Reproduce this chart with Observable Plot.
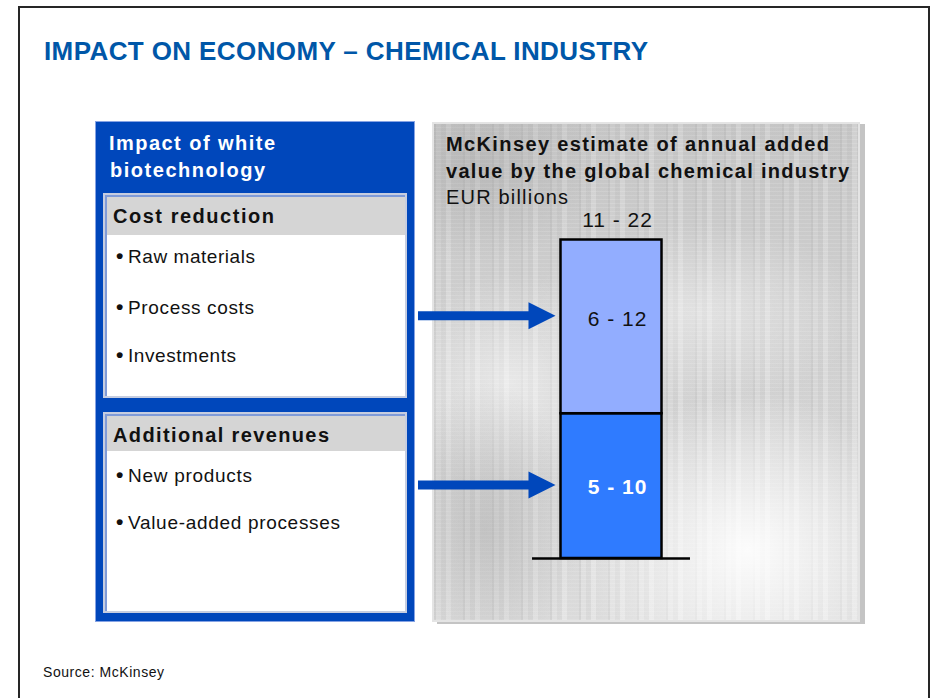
<!DOCTYPE html>
<html><head><meta charset="utf-8">
<script src="https://cdn.jsdelivr.net/npm/d3@7"></script>
<script src="https://cdn.jsdelivr.net/npm/@observablehq/plot@0.6"></script>
<style>
html,body{margin:0;padding:0;background:#fff;}
#slide{position:relative;width:934px;height:698px;overflow:hidden;background:#fff;font-family:"Liberation Sans",Arial,sans-serif;}
.abs{position:absolute;box-sizing:border-box;}
#frame{left:18px;top:6px;width:912px;height:720px;border:2.5px solid #262626;}
#bluePanel{left:95px;top:121px;width:320px;height:501px;background:#0047bb;border:1px solid #86a3e4;}
.box{background:#fff;border:2px solid #c6cde0;}
.box .hdr{position:absolute;left:0;top:0;right:0;background:#d5d5d5;}
.box .edge{position:absolute;left:0;top:0;right:0;bottom:0;box-shadow:inset 2px 2px 0 #7f9bd8;}
#box1{left:103px;top:193px;width:304px;height:205px;}
#box1 .hdr{height:40px;}
#box2{left:103px;top:412px;width:304px;height:201px;}
#box2 .hdr{height:37px;}
#texture{left:432px;top:122px;width:428px;height:500px;border:2px solid #e4e4e4;
  box-shadow:5px 2px 0 #c4c4c4;
  background:
   radial-gradient(ellipse 40% 32% at 74% 86%, rgba(255,255,255,0.92), rgba(255,255,255,0) 100%),
   radial-gradient(ellipse 22% 30% at 12% 82%, rgba(140,140,140,0.28), rgba(140,140,140,0) 100%),
   radial-gradient(ellipse 28% 22% at 18% 52%, rgba(255,255,255,0.5), rgba(255,255,255,0) 100%),
   radial-gradient(ellipse 40% 18% at 62% 38%, rgba(255,255,255,0.4), rgba(255,255,255,0) 100%),
   radial-gradient(ellipse 30% 20% at 10% 8%, rgba(150,150,150,0.3), rgba(150,150,150,0) 100%),
   repeating-linear-gradient(90deg, rgba(110,110,110,0.12) 0 2px, rgba(255,255,255,0) 2px 7px, rgba(110,110,110,0.07) 7px 12px, rgba(255,255,255,0.12) 12px 17px, rgba(110,110,110,0.05) 17px 29px),
   repeating-linear-gradient(0deg, rgba(255,255,255,0.14) 0 1px, rgba(0,0,0,0) 1px 4px),
   linear-gradient(180deg, #cacaca 0%, #d3d3d3 35%, #d9d9d9 65%, #e1e1e1 100%);}
#static{position:absolute;left:0;top:0;}
#plotHolder{position:absolute;left:415px;top:190px;}
</style></head>
<body>
<div id="slide">
  <div class="abs" id="frame"></div>
  <div class="abs" id="bluePanel"></div>
  <div class="abs box" id="box1"><div class="hdr"></div><div class="edge"></div></div>
  <div class="abs box" id="box2"><div class="hdr"></div><div class="edge"></div></div>
  <div class="abs" id="texture"></div>
  <div id="plotHolder"></div>
</div>
<script>
// ---------- data ----------
const segments = ["Additional revenues", "Cost reduction"];   // bottom to top
const segLow   = [5, 6];     // EUR billions, low estimate
const segHigh  = [10, 12];   // EUR billions, high estimate
const totalLow  = 11;
const totalHigh = 22;
const segColors = ["#2f7bff", "#92adff"];
const segLabelColors = ["#ffffff", "#111111"];
const segLabelWeights = ["bold", "normal"];

// ---------- static slide texts ----------
const FONT = '"Liberation Sans", Arial, sans-serif';
const texts = [
  {t: "IMPACT ON ECONOMY \u2013 CHEMICAL INDUSTRY", x: 44, y: 60, s: 26, w: "bold", c: "#0057a8", L: 604},
  {t: "Impact of white", x: 109, y: 150, s: 20, w: "bold", c: "#fff", L: 166},
  {t: "biotechnology", x: 110, y: 177, s: 20, w: "bold", c: "#fff", L: 155},
  {t: "Cost reduction", x: 113, y: 223, s: 20, w: "bold", c: "#111", L: 161},
  {t: "Raw materials", x: 128, y: 263, s: 19, w: "normal", c: "#111", L: 127, b: true},
  {t: "Process costs", x: 128, y: 314, s: 19, w: "normal", c: "#111", L: 126, b: true},
  {t: "Investments", x: 128, y: 362, s: 19, w: "normal", c: "#111", L: 108, b: true},
  {t: "Additional revenues", x: 113, y: 442, s: 20, w: "bold", c: "#111", L: 216},
  {t: "New products", x: 128, y: 482, s: 19, w: "normal", c: "#111", L: 124, b: true},
  {t: "Value-added processes", x: 128, y: 529, s: 19, w: "normal", c: "#111", L: 212, b: true},
  {t: "McKinsey estimate of annual added", x: 446, y: 151, s: 20, w: "bold", c: "#111", L: 383},
  {t: "value by the global chemical industry", x: 446, y: 178, s: 20, w: "bold", c: "#111", L: 403},
  {t: "EUR billions", x: 446, y: 204, s: 20, w: "normal", c: "#111", L: 122},
  {t: "Source: McKinsey", x: 43, y: 677, s: 14, w: "normal", c: "#111", L: 121}
];
const svg = d3.select("#slide").append("svg").attr("id", "static")
  .attr("width", 934).attr("height", 698).style("font-family", FONT);
for (const d of texts) {
  svg.append("text").attr("x", d.x).attr("y", d.y).attr("font-size", d.s)
    .attr("font-weight", d.w).attr("fill", d.c)
    .attr("textLength", d.L).attr("lengthAdjust", "spacing").text(d.t);
  if (d.b) svg.append("text").attr("x", d.x - 12).attr("y", d.y).attr("font-size", d.s + 2)
    .attr("font-weight", "bold").attr("fill", d.c).text("\u2022");
}

// ---------- chart ----------
const cum = d3.cumsum(segHigh);
const rows = segments.map((s, i) => ({
  segment: s, lo: segLow[i], hi: segHigh[i],
  y1: cum[i] - segHigh[i], y2: cum[i], mid: cum[i] - segHigh[i] / 2,
  label: `${segLow[i]} - ${segHigh[i]}`
}));
const totalRow = [{y: totalHigh, label: `${totalLow} - ${totalHigh}`}];

const arrowBlue = "#0047bb";
const arrowDy = [-1, -11];          // pixel offset of each arrow from its segment's middle
const labelDy = [0.7, -8];          // pixel offset of each label from its segment's middle
const arrowHead = {
  draw(context, size) {
    const r = Math.sqrt(size / Math.PI);
    context.moveTo(r, 0);
    context.lineTo(-r, -r);
    context.lineTo(-r, r);
    context.closePath();
  }
};

const marks = [
  Plot.rect(rows, {x1: () => 0, x2: () => 1, y1: "y1", y2: "y2", fill: "segment", stroke: "#000", strokeWidth: 2.5}),
  Plot.ruleY([0], {x1: () => -0.282, x2: () => 1.282, stroke: "#000", strokeWidth: 2.5}),
  Plot.text(totalRow, {x: () => 0.56, y: "y", text: "label", dy: -20, fontSize: 21, fill: "#111"})
];
rows.forEach((r, i) => {
  marks.push(
    Plot.text([r], {x: () => 0.56, y: "mid", text: "label", dy: labelDy[i], fontSize: 21,
      fill: segLabelColors[i], fontWeight: segLabelWeights[i]}),
    Plot.ruleY([r], {y: "mid", dy: arrowDy[i], x1: () => -1.411, x2: () => -0.30, stroke: arrowBlue, strokeWidth: 9}),
    Plot.dot([r], {x: () => -0.188, y: "mid", dy: arrowDy[i], r: 13.5, symbol: arrowHead, fill: arrowBlue, stroke: "none"})
  );
});

const chart = Plot.plot({
  width: 460,
  height: 420,
  x: {domain: [0, 1], range: [145.5, 246.5], axis: null},
  y: {domain: [0, totalHigh], range: [368, 49.5], axis: null},
  color: {domain: segments, range: segColors},
  style: {background: "transparent", overflow: "visible", fontFamily: FONT, letterSpacing: "1px"},
  marks
});
document.getElementById("plotHolder").appendChild(chart);
</script>
</body></html>
